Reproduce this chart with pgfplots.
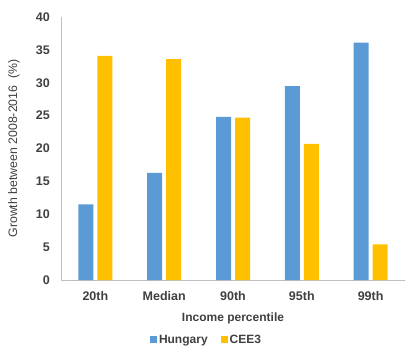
\documentclass[border=0pt]{standalone}
\usepackage{pgfplots}
\pgfplotsset{compat=1.18}
\usepackage{fontspec}
\setmainfont{Liberation Sans}
\definecolor{hun}{HTML}{5B9BD5}
\definecolor{cee}{HTML}{FFC000}
\definecolor{txt}{HTML}{404040}
\definecolor{axl}{HTML}{BFBFBF}
\begin{document}
\begin{tikzpicture}
\path[use as bounding box] (-61pt,-83pt) rectangle (350pt,280pt);
\begin{axis}[
  at={(0,0)}, anchor=south west,
  scale only axis, width=344pt, height=263pt,
  ybar, bar width=15pt,
  xmin=-0.5, xmax=4.5, ymin=0, ymax=40,
  xtick={0,...,4}, xticklabels={20th,Median,90th,95th,99th},
  ytick={0,5,...,40},
  axis lines*=left,
  axis line style={axl, line width=0.8pt},
  major tick length=0pt,
  /pgf/number format/assume math mode=true,
  tick label style={font=\bfseries\fontsize{12.5}{14}\selectfont, text=txt, inner sep=0pt},
  yticklabel style={anchor=east, xshift=-11pt},
  xticklabel style={anchor=north, yshift=-11pt},
  xlabel={Income percentile},
  xlabel style={at={(axis description cs:0.5,-0.1445)}, anchor=center, font=\bfseries\fontsize{12}{14}\selectfont, text=txt},
  ylabel={Growth between 2008-2016 \ (\%)},
  ylabel style={at={(axis description cs:-0.137,0.5)}, anchor=center, font=\fontsize{12.3}{14}\selectfont, text=txt},
  legend columns=2,
  legend style={at={(axis description cs:0.423,-0.228)}, anchor=center, draw=none, fill=none,
    font=\bfseries\fontsize{12}{14}\selectfont, text=txt,
    /tikz/every even column/.append style={column sep=11pt}},
  legend image code/.code={\fill[#1] (0pt,-3.5pt) rectangle (7pt,3.5pt);},
]
\addplot[fill=hun, draw=none, bar shift=-9.5pt] coordinates {(0,11.5) (1,16.3) (2,24.8) (3,29.5) (4,36.1)};
\addplot[fill=cee, draw=none, bar shift=9.5pt] coordinates {(0,34.1) (1,33.6) (2,24.7) (3,20.7) (4,5.4)};
\legend{Hungary, CEE3}
\end{axis}
\end{tikzpicture}
\end{document}
